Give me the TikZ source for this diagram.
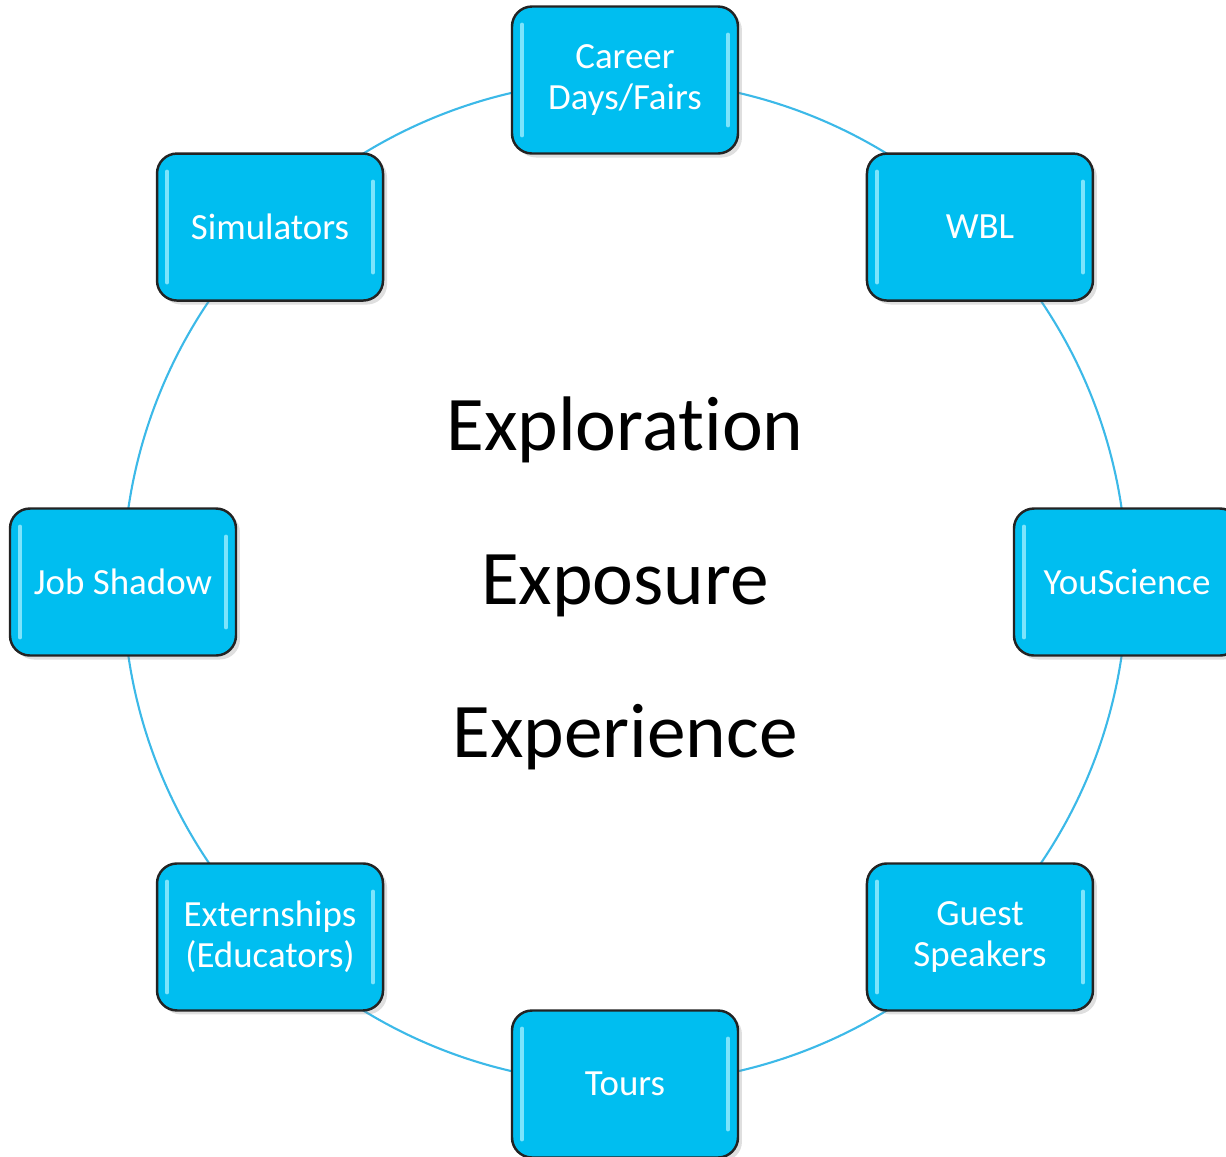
\documentclass[tikz,border=0pt]{standalone}
\usepackage{fontspec}
\setmainfont{Carlito}[Ligatures=NoCommon]
\usetikzlibrary{shadows}

\definecolor{tilefill}{RGB}{0,190,240}
\definecolor{tileglint}{RGB}{125,228,252}
\definecolor{ringblue}{RGB}{60,185,232}
\definecolor{tileedge}{RGB}{35,35,35}

\tikzset{
	tile/.style={draw=tileedge, line width=0.7pt, fill=tilefill, rounded corners=2mm,
		minimum width=2.26cm, minimum height=1.47cm, inner sep=0pt, align=center,
		text=white, font=\fontsize{10.5}{11.6}\selectfont,
		drop shadow={opacity=0.25, shadow xshift=0.4mm, shadow yshift=-0.4mm},
		path picture={
			\draw[glint] ([shift={(1mm,-1.8mm)}]path picture bounding box.north west) -- ([shift={(1mm,1.8mm)}]path picture bounding box.south west);
			\draw[glint] ([shift={(-1mm,-2.8mm)}]path picture bounding box.north east) -- ([shift={(-1mm,2.8mm)}]path picture bounding box.south east);
		}},
	glint/.style={tileglint, line width=1.1pt, line cap=round},
	ring/.style={ringblue, line width=0.6pt},
	theme/.style={anchor=base, font=\fontsize{22}{26}\selectfont}
}

\begin{document}
\begin{tikzpicture}
	\useasboundingbox (-6.25,-5.74) rectangle (6.01,5.82);
	\coordinate (hub) at (0,0);
	\draw[ring] (hub) circle (5.02); % ring behind the tiles

	\node[tile] (career) at (90:5.02) {Career\\Days/Fairs};
	\node[tile] (wbl) at (45:5.02) {WBL};
	\node[tile] (youscience) at (0:5.02) {YouScience};
	\node[tile] (guest) at (-45:5.02) {Guest\\Speakers};
	\node[tile] (tours) at (-90:5.02) {Tours};
	\node[tile] (extern) at (-135:5.02) {Externships\\(Educators)};
	\node[tile] (shadow) at (180:5.02) {Job Shadow};
	\node[tile] (sim) at (135:5.02) {Simulators};

	\node[theme] (explore) at (0,1.32) {Exploration};
	\node[theme] (expose) at (0,-0.22) {Exposure};
	\node[theme] (experience) at (0,-1.75) {Experience};
\end{tikzpicture}
\end{document}
